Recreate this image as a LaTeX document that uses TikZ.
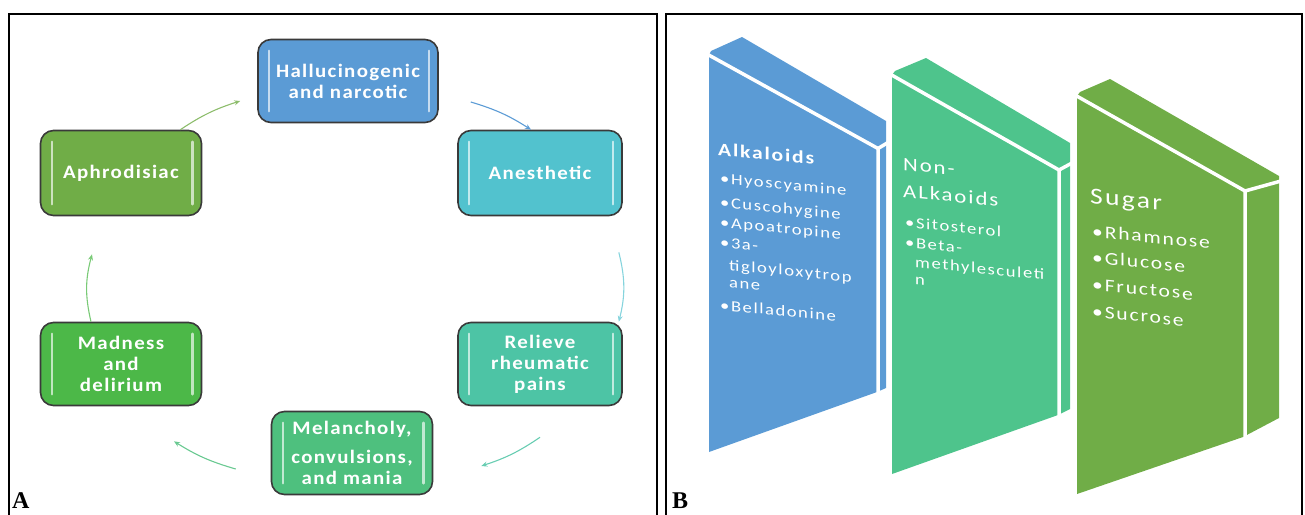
\documentclass[tikz,border=0pt]{standalone}
\usepackage{fontspec}
\setmainfont{Carlito}
\newfontfamily\cyclefont[FakeStretch=1.1,LetterSpace=7]{Carlito}
\newfontfamily\slabfont[FakeStretch=1.2,LetterSpace=10]{Carlito}
\newfontfamily\panelfont{Liberation Serif}
\usepackage{tikz}
\usetikzlibrary{arrows.meta, positioning, calc}
\definecolor{boxedge}{HTML}{3A3A3A}
\definecolor{hallblue}{HTML}{5B9BD5}
\definecolor{anecyan}{HTML}{52C2CE}
\definecolor{aphgreen}{HTML}{70AD47}
\definecolor{madgreen}{HTML}{4CB848}
\definecolor{relteal}{HTML}{4DC4A5}
\definecolor{melgreen}{HTML}{4EC07E}
\definecolor{slabblue}{HTML}{5B9BD5}
\definecolor{slabteal}{HTML}{4EC48C}
\definecolor{slabgreen}{HTML}{70AD47}

\begin{document}
\begin{tikzpicture}[x=1pt, y=-1pt,
    cyclebox/.style={draw=boxedge, line width=1.6pt, rounded corners=13pt,
      fill=#1, text=white, align=center, inner sep=0pt,
      minimum width=161pt, minimum height=83pt,
      font=\cyclefont\bfseries\fontsize{19}{21}\selectfont},
    glint/.style={draw=white!65!#1, line width=2.4pt, line cap=round},
    cycarrow/.style={draw=#1, line width=1.1pt, -{Stealth[length=6pt, width=5pt]}},
    seam/.style={draw=white, line width=3.5pt},
    slabhead/.style={anchor=base west, yslant=-0.1, text=white, inner sep=0pt,
      font=\slabfont\fontsize{19}{21}\selectfont},
    slabitem/.style={anchor=base west, yslant=-0.1, text=white, inner sep=0pt,
      font=\slabfont\fontsize{15.5}{17}\selectfont}]
  \useasboundingbox (0,0) rectangle (1305,514);

  %% --- Left panel: effects cycle ---
  \begin{scope}
    \draw[line width=1.8pt] (9,530) -- (9,14) -- (657,14) -- (657,530);
    \node[font=\panelfont\bfseries\fontsize{24}{26}\selectfont, anchor=base west,
      inner sep=0pt] (labA) at (12,508) {A};

    \node[cyclebox=hallblue, minimum width=180pt] (hal) at (348,81)
      {Hallucinogenic\\and narcotic};
    \node[cyclebox=anecyan, minimum width=164pt, minimum height=85pt] (ane) at (540,173)
      {Anesthetic};
    \node[cyclebox=relteal, minimum width=164pt] (rel) at (540,364)
      {Relieve\\rheumatic\\pains};
    \node[cyclebox=melgreen] (mel) at (352,453)
      {Melancholy,\\[8pt]convulsions,\\and mania};
    \node[cyclebox=madgreen] (mad) at (121,364)
      {Madness\\and\\delirium};
    \node[cyclebox=aphgreen, minimum height=85pt] (aph) at (121,173)
      {Aphrodisiac};

    %% light bars inside each box
    \foreach \n/\c in {hal/hallblue, ane/anecyan, rel/relteal,
                       mel/melgreen, mad/madgreen, aph/aphgreen} {
      \draw[glint=\c] ([xshift=12pt,yshift=-12pt]\n.north west)
        -- ([xshift=12pt,yshift=12pt]\n.south west);
      \draw[glint=\c] ([xshift=-10pt,yshift=-12pt]\n.north east)
        -- ([xshift=-10pt,yshift=12pt]\n.south east);
    }

    %% cycle arrows
    \draw[cycarrow=aphgreen!80!white] ([xshift=-22pt]aph.north east)
      to[bend left=8] ([xshift=-17pt,yshift=-20pt]hal.west);
    \draw[cycarrow=hallblue] ([xshift=32pt,yshift=-21pt]hal.east)
      to[bend left=8] ([xshift=-9pt]ane.north);
    \draw[cycarrow=anecyan!70!white] ([xshift=-4pt,yshift=-36pt]ane.south east)
      to[bend left=14] ([xshift=-4pt]rel.north east);
    \draw[cycarrow=relteal!85!white] ([yshift=-31pt]rel.south)
      to[bend left=8] ([xshift=48pt,yshift=-13pt]mel.east);
    \draw[cycarrow=melgreen!85!white] ([xshift=-35pt,yshift=-16pt]mel.west)
      to[bend left=8] ([xshift=53pt,yshift=-35pt]mad.south);
    \draw[cycarrow=madgreen!75!white] ([xshift=-30pt]mad.north)
      to[bend left=14] ([xshift=-29pt,yshift=-38pt]aph.south);
  \end{scope}

  %% --- Right panel: constituents ---
  \begin{scope}
    \draw[line width=1.8pt] (666,530) -- (666,14) -- (1302,14) -- (1302,530);
    \node[font=\panelfont\bfseries\fontsize{24}{26}\selectfont, anchor=base west,
      inner sep=0pt] (labB) at (672,508) {B};

    %% slabs: outline, then white seams between faces
    \fill[slabblue] (709,452) -- (709,55) -- (711,51) -- (742,37) -- (886,121)
      -- (886,388) -- (877,392) -- cycle;
    \draw[seam] (706,53.5) -- (878,148.5) -- (878,395);
    \draw[seam] (878,148.5) -- (888,142.5);

    \fill[slabteal] (892,474) -- (892,75) -- (895,71) -- (926,58) -- (1070,143)
      -- (1070,409) -- (1058,415) -- cycle;
    \draw[seam] (889,73.5) -- (1059,170) -- (1059,418);
    \draw[seam] (1059,170) -- (1072,163);

    \fill[slabgreen] (1077,494) -- (1077,96) -- (1080,92) -- (1110,79) -- (1279,176)
      -- (1279,418) -- (1243,437) -- cycle;
    \draw[seam] (1074,94.5) -- (1245,191) -- (1245,440);
    \draw[seam] (1245,191) -- (1281,181);

    %% slab texts
    \node[slabhead, font=\slabfont\bfseries\fontsize{18}{20}\selectfont] (alkhead)
      at (718,155) {Alkaloids};
    \foreach \x/\y/\txt [count=\i] in {720/183/{•Hyoscyamine}, 720/207/{•Cuscohygine},
        720/227/{•Apoatropine}, 720/247/{•3a-}, 729/270/{tigloyloxytrop},
        729/287/{ane}, 720/310/{•Belladonine}}
      \node[slabitem] (alk\i) at (\x,\y) {\txt};

    \node[slabhead] (nonhead) at (903,170) {Non-};
    \node[slabhead] (nonhead2) at (903,197) {ALkaoids};
    \foreach \x/\y/\txt [count=\i] in {905/227/{•Sitosterol}, 905/247/{•Beta-},
        915/267/{methylesculeti}, 915/284/{n}}
      \node[slabitem] (non\i) at (\x,\y) {\txt};

    \node[slabhead, font=\slabfont\fontsize{23}{25}\selectfont] (sughead)
      at (1090,203) {Sugar};
    \foreach \y/\txt [count=\i] in {237/{•Rhamnose}, 263/{•Glucose},
        290/{•Fructose}, 317/{•Sucrose}}
      \node[slabitem, font=\slabfont\fontsize{18}{20}\selectfont] (sug\i)
        at (1092,\y) {\txt};
  \end{scope}
\end{tikzpicture}
\end{document}
